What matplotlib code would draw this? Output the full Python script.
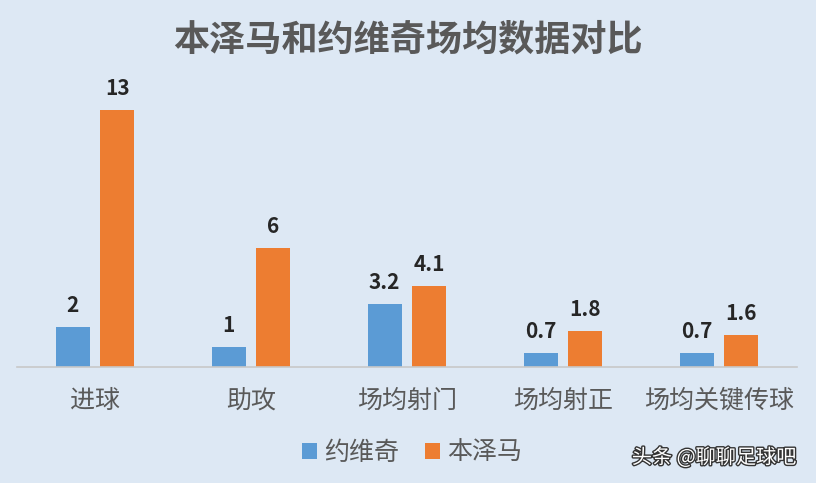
import matplotlib.pyplot as plt
import matplotlib.patheffects as pe
import numpy as np

plt.rcParams['font.family'] = ['Noto Sans CJK SC', 'DejaVu Sans']

categories = ["进球", "助攻", "场均射门", "场均射正", "场均关键传球"]
yovic = [2, 1, 3.2, 0.7, 0.7]
benzema = [13, 6, 4.1, 1.8, 1.6]
value_labels_yovic = ["2", "1", "3.2", "0.7", "0.7"]
value_labels_benzema = ["13", "6", "4.1", "1.8", "1.6"]

bg = "#dde8f4"
blue = "#5b9bd5"
orange = "#ed7d31"

fig = plt.figure(figsize=(8.16, 4.83), dpi=100, facecolor=bg)
ax = fig.add_axes([17 / 816, 116 / 483, 780 / 816, 287 / 483], facecolor=bg)

x = np.arange(len(categories))
w = 0.218
off = 0.144
b1 = ax.bar(x - off, yovic, w, color=blue, label="约维奇")
b2 = ax.bar(x + off, benzema, w, color=orange, label="本泽马")

for rect, lab in zip(b1, value_labels_yovic):
    ax.annotate(lab, (rect.get_x() + rect.get_width() / 2, rect.get_height()),
                xytext=(0, 8), textcoords="offset points", ha="center", va="bottom",
                fontsize=15, fontweight="bold", color="#262626")
for rect, lab in zip(b2, value_labels_benzema):
    ax.annotate(lab, (rect.get_x() + rect.get_width() / 2, rect.get_height()),
                xytext=(0, 8), textcoords="offset points", ha="center", va="bottom",
                fontsize=15, fontweight="bold", color="#262626")

ax.set_xlim(-0.5, len(categories) - 0.5)
ax.set_ylim(0, 14.5)
ax.set_yticks([])
ax.set_xticks(x)
ax.set_xticklabels(categories, fontsize=18, color="#595959")
ax.tick_params(axis="x", length=0, pad=15)
for s in ["top", "right", "left"]:
    ax.spines[s].set_visible(False)
ax.spines["bottom"].set_color("#c8c8c8")
ax.spines["bottom"].set_linewidth(1.2)

fig.text(0.5, 1 - 40 / 483, "本泽马和约维奇场均数据对比", ha="center", va="center",
         fontsize=26, color="#595959", fontweight="bold")

fig.legend(loc="center", bbox_to_anchor=(412 / 816, 1 - 453 / 483), ncol=2,
           frameon=False, fontsize=18, handlelength=0.6, handleheight=0.6,
           handletextpad=0.3, columnspacing=1.0, labelcolor="#595959")

fig.text(714 / 816, 1 - 458 / 483, "头条 @聊聊足球吧", ha="center", va="center",
         fontsize=14.5, color="white",
         path_effects=[pe.withStroke(linewidth=2, foreground="#333333")])

fig.savefig("out.png", dpi=100, facecolor=bg)
